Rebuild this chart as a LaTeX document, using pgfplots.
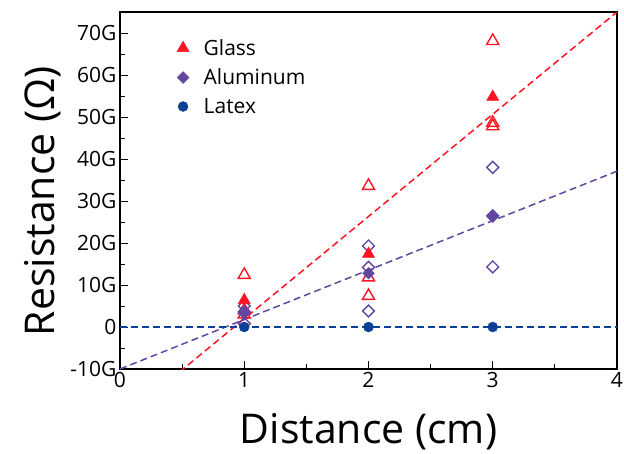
\documentclass[border=0pt]{standalone}
\usepackage{fontspec}
\setmainfont{Open Sans}
\usepackage{pgfplots}
\pgfplotsset{compat=1.18}
\definecolor{cglass}{RGB}{255,20,35}
\definecolor{calu}{RGB}{98,70,160}
\definecolor{clatex}{RGB}{10,65,150}
\pgfplotsset{widelegend/.style={legend image code/.code={\path (0cm,0cm) (0.95cm,0cm); \draw[mark repeat=2,mark phase=2,##1] plot coordinates {(0cm,0cm) (0.3cm,0cm) (0.6cm,0cm)};}}}
\begin{document}
\begin{tikzpicture}
\useasboundingbox (-120bp,-85bp) rectangle (504bp,369bp);
\begin{axis}[
  at={(0,0)}, anchor=south west,
  scale only axis, width=497bp, height=357bp,
  xmin=0, xmax=4, ymin=-10, ymax=75,
  xtick={0,1,2,3,4}, xticklabels={0,1,2,3,4},
  ytick={-10,0,10,20,30,40,50,60,70},
  yticklabels={-10G,0,10G,20G,30G,40G,50G,60G,70G},
  minor x tick num=1, minor y tick num=1,
  tick align=inside, xtick pos=bottom, ytick pos=left,
  major tick length=8bp, minor tick length=5bp,
  axis line style={line width=1.2bp},
  every tick/.style={black, line width=1bp},
  tick label style={font=\fontsize{21bp}{24bp}\selectfont},
  xlabel={Distance (cm)}, ylabel={Resistance (Ω)},
  label style={font=\fontsize{41bp}{44bp}\selectfont},
  xlabel style={at={(axis description cs:0.5,-0.176)}, anchor=center},
  ylabel style={at={(axis description cs:-0.155,0.47)}, anchor=center},
  legend style={draw=none, fill=none, at={(axis description cs:0.103,0.935)}, anchor=north west,
    font=\fontsize{21bp}{24bp}\selectfont, row sep=8bp},
  legend cell align=left,
  clip=true,
]
% open markers (individual measurements)
\addplot[only marks, mark=triangle, mark size=7bp, cglass, mark options={line width=1.4bp, fill=white}, forget plot]
  coordinates {(1,12.4) (1,4.0) (1,3.0) (2,33.6) (2,11.8) (2,7.4) (3,68.1) (3,48.6) (3,47.8)};
\addplot[only marks, mark=square, mark size=4.2bp, calu, mark options={rotate=45, line width=1.4bp, fill=white}, forget plot]
  coordinates {(1,3.6) (1,0.8) (1,5.0) (2,19.3) (2,14.2) (2,3.8) (3,38.0) (3,26.5) (3,14.3)};
% filled markers (means)
\addplot[only marks, widelegend, mark=triangle*, mark size=7bp, cglass, mark options={fill=cglass}]
  coordinates {(1,6.4) (2,17.4) (3,54.8)};
\addlegendentry{Glass}
\addplot[only marks, widelegend, mark=square*, mark size=4.2bp, calu, mark options={rotate=45, fill=calu}]
  coordinates {(1,3.3) (2,12.8) (3,26.3)};
\addlegendentry{Aluminum}
\addplot[only marks, widelegend, mark=*, mark size=5bp, clatex, mark options={fill=clatex}]
  coordinates {(1,0) (2,0) (3,0)};
\addlegendentry{Latex}
% linear fits
\addplot[cglass, line width=1.5bp, dash pattern=on 7bp off 4bp, forget plot]
  coordinates {(0,-22.37) (4,75)};
\addplot[calu, line width=1.5bp, dash pattern=on 7bp off 4bp, forget plot]
  coordinates {(0,-10) (4,37.1)};
\addplot[clatex, line width=1.3bp, dash pattern=on 7bp off 4bp, forget plot]
  coordinates {(0,0) (4,0)};
\end{axis}
\end{tikzpicture}
\end{document}
